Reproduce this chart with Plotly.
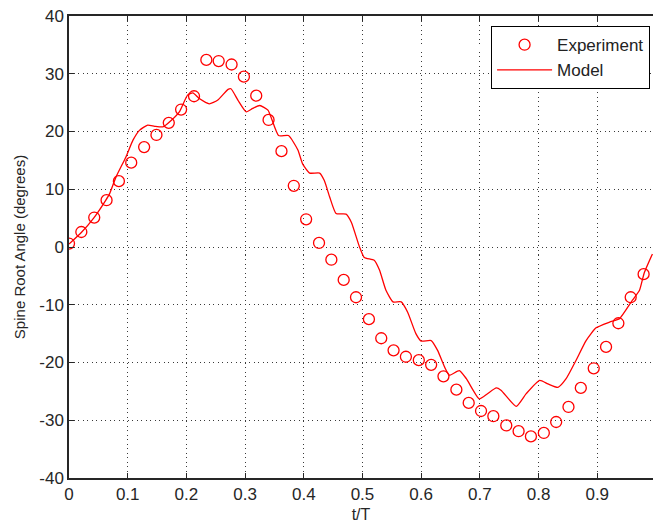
import plotly.graph_objects as go

# Experiment data
exp_t = [0.000, 0.021, 0.043, 0.064, 0.085, 0.106, 0.128, 0.149, 0.170, 0.191,
         0.213, 0.234, 0.255, 0.277, 0.298, 0.319, 0.340, 0.362, 0.383, 0.404,
         0.426, 0.447, 0.468, 0.489, 0.511, 0.532, 0.553, 0.574, 0.596, 0.617,
         0.638, 0.660, 0.681, 0.702, 0.723, 0.745, 0.766, 0.787, 0.809, 0.830,
         0.851, 0.872, 0.894, 0.915, 0.936, 0.957, 0.979]
exp_angle = [0.6, 2.6, 5.1, 8.1, 11.4, 14.6, 17.3, 19.4, 21.5, 23.8,
             26.1, 32.4, 32.2, 31.6, 29.5, 26.2, 22.0, 16.6, 10.6, 4.8,
             0.7, -2.2, -5.7, -8.7, -12.5, -15.8, -17.9, -19.0, -19.6, -20.4,
             -22.4, -24.7, -27.0, -28.4, -29.3, -30.9, -31.9, -32.8, -32.2, -30.3,
             -27.7, -24.4, -21.0, -17.3, -13.2, -8.7, -4.7]

# Model curve
model_t = [0.000, 0.021, 0.042, 0.062, 0.069, 0.080, 0.097, 0.109, 0.120, 0.134,
           0.146, 0.160, 0.174, 0.188, 0.202, 0.211, 0.222, 0.239, 0.253, 0.271,
           0.276, 0.288, 0.302, 0.313, 0.325, 0.339, 0.357, 0.374, 0.390, 0.398,
           0.410, 0.427, 0.435, 0.444, 0.455, 0.472, 0.481, 0.495, 0.503, 0.520,
           0.529, 0.540, 0.552, 0.566, 0.577, 0.591, 0.600, 0.617, 0.628, 0.640,
           0.648, 0.665, 0.677, 0.699, 0.713, 0.728, 0.736, 0.762, 0.779, 0.802,
           0.816, 0.833, 0.847, 0.864, 0.881, 0.898, 0.921, 0.938, 0.960, 0.972,
           0.980, 0.994]
model_angle = [0.5, 2.5, 5.0, 8.0, 9.2, 12.1, 15.6, 18.5, 20.2, 21.1,
               20.9, 20.8, 21.9, 23.4, 26.3, 26.7, 25.7, 24.8, 25.4, 27.3,
               27.4, 25.4, 23.4, 24.0, 24.5, 23.7, 19.3, 19.3, 16.8, 14.4,
               12.8, 12.8, 11.5, 8.7, 5.8, 5.7, 4.3, 0.0, -1.8, -2.3,
               -4.0, -7.5, -9.5, -9.5, -11.3, -15.0, -16.3, -16.2, -17.9, -20.8,
               -22.2, -21.4, -22.8, -26.3, -25.4, -24.4, -24.8, -27.6, -25.4, -23.1,
               -23.7, -24.3, -22.8, -19.6, -16.2, -14.0, -13.0, -12.4, -9.2, -7.5,
               -4.5, -1.2]

x_ticks = [0, 0.1, 0.2, 0.3, 0.4, 0.5, 0.6, 0.7, 0.8, 0.9]
x_tick_text = ["0", "0.1", "0.2", "0.3", "0.4", "0.5", "0.6", "0.7", "0.8", "0.9"]
y_ticks = [-40, -30, -20, -10, 0, 10, 20, 30, 40]
y_tick_text = ["-40", "-30", "-20", "-10", "0", "10", "20", "30", "40"]

axis_col = "#262626"
grid_col = "#3a3a3a"
font_fam = "Liberation Sans, Arial, sans-serif"

fig = go.Figure()
fig.add_trace(go.Scatter(
    x=exp_t, y=exp_angle, mode="markers", name="Experiment",
    marker=dict(symbol="circle-open", size=11, color="#ff0000",
                line=dict(width=1.3, color="#ff0000")),
))
fig.add_trace(go.Scatter(
    x=model_t, y=model_angle, mode="lines", name="Model",
    line=dict(color="#ff0000", width=1.3, shape="spline", smoothing=0.5),
))

fig.update_layout(
    width=653, height=524,
    margin=dict(l=69, r=0, t=16, b=46),
    paper_bgcolor="white", plot_bgcolor="white",
    font=dict(family=font_fam, size=15, color=axis_col),
    showlegend=True,
    legend=dict(
        x=0.995, xanchor="right", y=0.978, yanchor="top",
        bgcolor="white", bordercolor="black", borderwidth=1,
        font=dict(family=font_fam, size=17, color="#222222"),
        itemwidth=55, tracegroupgap=0,
    ),
    xaxis=dict(
        range=[0, 0.995], tickvals=x_ticks, ticktext=x_tick_text,
        showline=True, linecolor=axis_col, linewidth=1.5, mirror="allticks",
        ticks="inside", ticklen=5, tickcolor=axis_col,
        showgrid=True, gridcolor=grid_col, gridwidth=1, griddash="1px,3.5px",
        zeroline=False,
        tickfont=dict(size=17),
        title=dict(text="t/T", font=dict(size=16), standoff=6),
    ),
    yaxis=dict(
        range=[-40, 40], tickvals=y_ticks, ticktext=y_tick_text,
        showline=True, linecolor=axis_col, linewidth=1.5, mirror=False,
        ticks="inside", ticklen=5, tickcolor=axis_col,
        showgrid=True, gridcolor=grid_col, gridwidth=1, griddash="1px,3.5px",
        zeroline=False,
        tickfont=dict(size=17),
        title=dict(text="Spine Root Angle (degrees)", font=dict(size=15), standoff=10),
    ),
)

fig.write_html("out.html")
